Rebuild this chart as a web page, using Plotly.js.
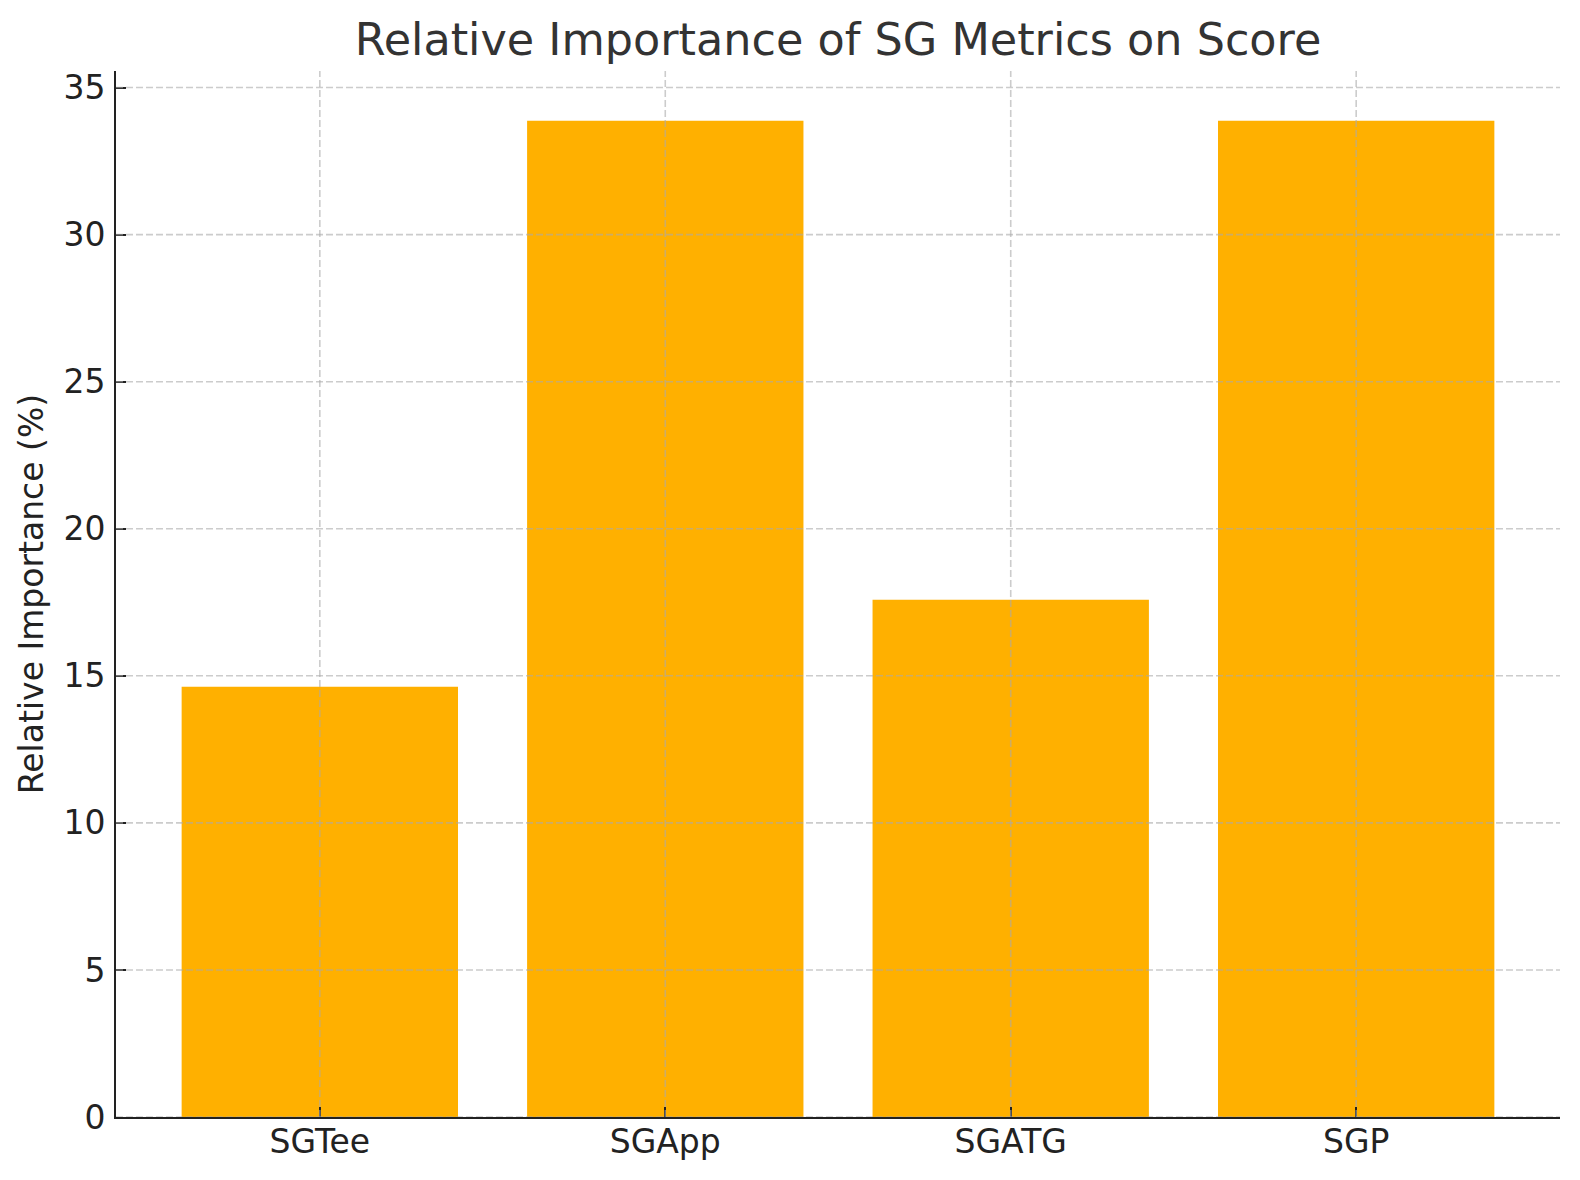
<!DOCTYPE html>
<html>
<head>
<meta charset="utf-8">
<script src="https://cdn.plot.ly/plotly-3.0.1.min.js"></script>
<style>html,body{margin:0;padding:0;background:#fff;}#chart{width:1580px;height:1180px;}</style>
</head>
<body>
<div id="chart"></div>
<script>
const categories = ["SGTee", "SGApp", "SGATG", "SGP"];
const importance = [14.63, 33.87, 17.59, 33.87];
const yTicks = [0, 5, 10, 15, 20, 25, 30, 35];
const chartTitle = "Relative Importance of SG Metrics on Score";
const yLabel = "Relative Importance (%)";

const FONT = "DejaVu Sans, sans-serif";
const gridStyle = {color: "rgba(170,170,170,0.6)", width: 1.6, dash: "7px,3px"};

const shapes = [];
yTicks.forEach(v => shapes.push({type: "line", layer: "above", xref: "paper", yref: "y",
  x0: 0, x1: 1, y0: v, y1: v, line: gridStyle}));
categories.forEach(c => shapes.push({type: "line", layer: "above", xref: "x", yref: "paper",
  x0: c, x1: c, y0: 0, y1: 1, line: gridStyle}));

const ymax = Math.max(...importance) * 1.05;
const n = categories.length;

Plotly.newPlot("chart", [{
  type: "bar",
  x: categories,
  y: importance,
  width: 0.8,
  marker: {color: "#ffb000", line: {width: 0}},
  hoverinfo: "x+y"
}], {
  width: 1580, height: 1180,
  paper_bgcolor: "#fff", plot_bgcolor: "#fff",
  font: {family: FONT, color: "#222"},
  margin: {l: 116, r: 20, t: 71, b: 62.5, autoexpand: false},
  title: {text: chartTitle, font: {family: FONT, size: 44.5, color: "#333"},
          x: 0.5, xref: "paper", y: 1 - 39/1180, yref: "container", yanchor: "middle"},
  xaxis: {
    type: "category", range: [-0.59, n - 1 + 0.59],
    showgrid: false, zeroline: false,
    showline: true, linecolor: "#222", linewidth: 2,
    ticks: "inside", ticklen: 10, tickwidth: 2, tickcolor: "#222",
    tickfont: {family: FONT, size: 33, color: "#222"},
    ticklabelstandoff: -6
  },
  yaxis: {
    range: [0, ymax], tickvals: yTicks,
    showgrid: false, zeroline: false,
    showline: true, linecolor: "#222", linewidth: 2,
    ticks: "inside", ticklen: 10, tickwidth: 2, tickcolor: "#222",
    tickfont: {family: FONT, size: 33, color: "#222"},
    ticklabelstandoff: 2,
    title: {text: yLabel, font: {family: FONT, size: 33, color: "#222"}, standoff: 10}
  },
  shapes: shapes,
  showlegend: false,
  bargap: 0.2
}, {displayModeBar: false, staticPlot: true});
</script>
</body>
</html>
